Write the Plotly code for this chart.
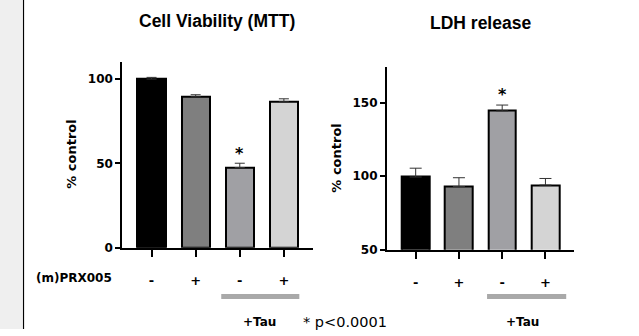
import plotly.graph_objects as go

# ---- data ----
groups = [0, 1, 2, 3]
prx_labels = ["-", "+", "-", "+"]
bar_colors = ["#000000", "#7f7f7f", "#a0a0a4", "#d4d4d4"]

mtt_values = [100, 89.5, 47.5, 86.5]
mtt_err = [1.0, 1.2, 2.6, 1.8]

ldh_values = [99.5, 93.0, 144.5, 94.0]
ldh_err = [6.0, 6.0, 4.0, 4.5]

W, H = 639, 336
def px(x):
    return x / W
def py(y):
    return (H - y) / H

fig = go.Figure()

fig.add_trace(go.Bar(
    x=groups, y=mtt_values, width=0.64,
    marker=dict(color=bar_colors, line=dict(color="#000000", width=2)),
    error_y=dict(type="data", array=mtt_err, arrayminus=[0]*4, color="#333333", thickness=1, width=5),
    xaxis="x", yaxis="y", showlegend=False, hoverinfo="skip",
))
fig.add_trace(go.Bar(
    x=groups, y=ldh_values, width=0.64,
    marker=dict(color=bar_colors, line=dict(color="#000000", width=2)),
    error_y=dict(type="data", array=ldh_err, arrayminus=[0]*4, color="#333333", thickness=1, width=6),
    xaxis="x2", yaxis="y2", showlegend=False, hoverinfo="skip",
))

common_x = dict(range=[-0.67, 3.66], tickmode="array", tickvals=groups, ticktext=prx_labels,
                showline=True, linecolor="#000000", linewidth=1.5, ticks="outside", ticklen=8,
                tickwidth=1.5, tickcolor="#000000", showgrid=False, zeroline=False,
                tickfont=dict(family="DejaVu Sans", size=13, color="#000000", weight="bold"),
                ticklabelstandoff=12, fixedrange=True)
common_y = dict(showline=True, linecolor="#000000", linewidth=1.5, ticks="outside", ticklen=5,
                tickwidth=1.5, tickcolor="#000000", showgrid=False, zeroline=False,
                tickfont=dict(family="DejaVu Sans", size=12, color="#000000", weight="bold"),
                fixedrange=True)

fig.update_layout(
    width=W, height=H,
    margin=dict(l=0, r=0, t=0, b=0),
    paper_bgcolor="#ffffff", plot_bgcolor="rgba(0,0,0,0)",
    bargap=0,
    xaxis=dict(domain=[px(122), px(313)], anchor="y", **common_x),
    yaxis=dict(domain=[py(253), py(63)], anchor="x", range=[0, 110.3],
               tickvals=[0, 50, 100], **common_y),
    xaxis2=dict(domain=[px(386.7), px(574)], anchor="y2", **common_x),
    yaxis2=dict(domain=[py(255), py(68)], anchor="x2", range=[50, 174.7],
                tickvals=[50, 100, 150], **common_y),
)

shapes = [
    dict(type="rect", xref="paper", yref="paper", x0=0, x1=px(22), y0=0, y1=1,
         fillcolor="#efefef", line=dict(width=0), layer="below"),
    dict(type="line", xref="paper", yref="paper", x0=px(23.5), x1=px(23.5), y0=0, y1=1,
         line=dict(color="#000000", width=1.2)),
    dict(type="line", xref="x", yref="paper", x0=1.58, x1=3.35, y0=py(302.7), y1=py(302.7),
         line=dict(color="#a9a9a9", width=5)),
    dict(type="line", xref="x2", yref="paper", x0=1.65, x1=3.48, y0=py(302.7), y1=py(302.7),
         line=dict(color="#a9a9a9", width=5)),
]
fig.update_layout(shapes=shapes)

bold = dict(family="DejaVu Sans", color="#000000", weight="bold")
C = dict(showarrow=False, xanchor="center", yanchor="middle")
ann = [
    dict(text="Cell Viability (MTT)", x=px(217), y=py(21), xref="paper", yref="paper",
         font=dict(family="Liberation Sans", size=17.5, color="#000000", weight="bold"), **C),
    dict(text="LDH release", x=px(480), y=py(23), xref="paper", yref="paper",
         font=dict(family="Liberation Sans", size=17.5, color="#000000", weight="bold"), **C),
    dict(text="% control", x=px(72), y=py(158), xref="paper", yref="paper", textangle=-90,
         font=dict(size=13, **bold), **C),
    dict(text="% control", x=px(337), y=py(161), xref="paper", yref="paper", textangle=-90,
         font=dict(size=13, **bold), **C),
    dict(text="(m)PRX005", x=px(74), y=py(284), xref="paper", yref="paper",
         font=dict(size=12, **bold), **C),
    dict(text="+Tau", x=2.44, y=py(329), xref="x", yref="paper",
         font=dict(size=12, **bold), **C),
    dict(text="+Tau", x=2.47, y=py(329), xref="x2", yref="paper",
         font=dict(size=12, **bold), **C),
    dict(text="* p<0.0001", x=px(345), y=py(329), xref="paper", yref="paper",
         font=dict(family="DejaVu Sans", size=14.5, color="#000000"), **C),
    dict(text="*", x=2, y=56, xref="x", yref="y",
         font=dict(size=16, **bold), **C),
    dict(text="*", x=2, y=156, xref="x2", yref="y2",
         font=dict(size=16, **bold), **C),
]
fig.update_layout(annotations=ann)

fig.write_html("out.html", config={"displayModeBar": False},
               post_script="document.body.style.margin='0';document.body.style.padding='0';")
